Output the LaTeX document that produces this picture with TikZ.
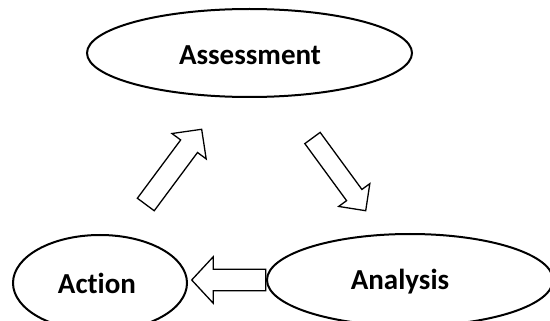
\documentclass[tikz,border=0pt]{standalone}
\usepackage{fontspec}
\setmainfont{Carlito}[Ligatures=NoCommon]
\usetikzlibrary{shapes.geometric}
\begin{document}
\begin{tikzpicture}[x=1pt,y=-1pt,
  bubble/.style={ellipse, draw=black, line width=2pt, inner sep=0pt},
  lbl/.style={font=\fontsize{29}{33}\selectfont\bfseries, text=black},
  blockarrow/.style={draw=black, line width=1.3pt, fill=white, line join=miter}]
\useasboundingbox (0,0) rectangle (550,321);
\node[bubble, minimum width=325pt, minimum height=88pt] (assess) at (249.5,53) {};
\node[lbl] (assesstext) at (250,55) {Assessment};
\node[bubble, minimum width=174pt, minimum height=96pt] (action) at (100,283) {};
\node[lbl] (actiontext) at (97,283) {Action};
\node[bubble, minimum width=286pt, minimum height=92pt] (analysis) at (410,280) {};
\node[lbl] (analysistext) at (400,282) {Analysis};
% up-right arrow (Action -> Assessment)
\begin{scope}[shift={(145.8,204.5)}, rotate=53.4]
\draw[blockarrow] (0,-10.5) -- (72.6,-10.5) -- (72.6,-21.3) -- (93.7,0) -- (72.6,21.3) -- (72.6,10.5) -- (0,10.5) -- cycle;
\end{scope}
% down-right arrow (Assessment -> Analysis)
\begin{scope}[shift={(312.5,138)}, rotate=-53.8]
\draw[blockarrow] (0,-9.5) -- (70.7,-9.5) -- (70.7,-19.3) -- (90.1,0) -- (70.7,19.3) -- (70.7,9.5) -- (0,9.5) -- cycle;
\end{scope}
% left arrow (Analysis -> Action)
\begin{scope}[shift={(265.7,280)}, rotate=180]
\draw[blockarrow] (0,-10.7) -- (52.4,-10.7) -- (52.4,-23.3) -- (74,0) -- (52.4,23.3) -- (52.4,10.7) -- (0,10.7) -- cycle;
\end{scope}
\end{tikzpicture}
\end{document}
